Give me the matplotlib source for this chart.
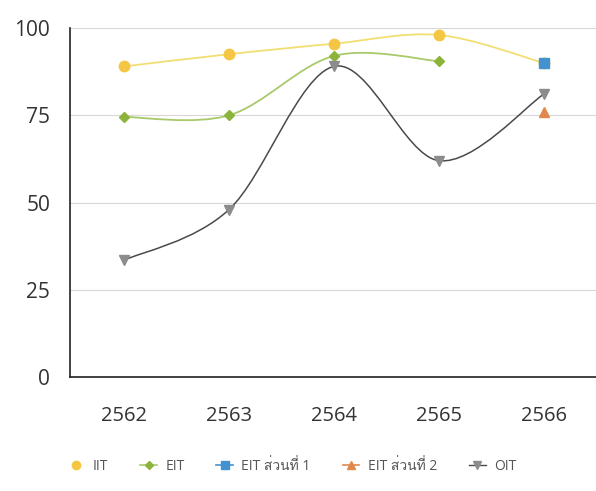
import numpy as np
import matplotlib.pyplot as plt
from matplotlib.path import Path
from matplotlib.patches import PathPatch
from matplotlib.lines import Line2D
from matplotlib import font_manager, ft2font

years = ['2562', '2563', '2564', '2565', '2566']
iit = [89, 92.5, 95.5, 98, 90]
eit = [74.5, 75, 92, 90.5]
eit_part1 = [90]
eit_part2 = [76]
oit = [33.5, 48, 89, 62, 81]

labels = ['IIT', 'EIT', 'EIT ส่วนที่ 1', 'EIT ส่วนที่ 2', 'OIT']


def thai_font():
    for f in font_manager.fontManager.ttflist:
        try:
            ft = ft2font.FT2Font(f.fname)
            if ft.get_char_index(ord('ส')) and ft.get_char_index(ord('ว')):
                return f.name
        except Exception:
            pass
    return 'DejaVu Sans'


def smooth_path(xs, ys, t=1 / 6):
    # Excel-style smoothed line through the points (cubic bezier segments)
    pts = list(zip(xs, ys))
    verts = [pts[0]]
    codes = [Path.MOVETO]
    for i in range(len(pts) - 1):
        p0 = pts[i - 1] if i > 0 else pts[i]
        p1 = pts[i]
        p2 = pts[i + 1]
        p3 = pts[i + 2] if i + 2 < len(pts) else pts[i + 1]
        c1 = (p1[0] + (p2[0] - p0[0]) * t, p1[1] + (p2[1] - p0[1]) * t)
        c2 = (p2[0] - (p3[0] - p1[0]) * t, p2[1] - (p3[1] - p1[1]) * t)
        verts += [c1, c2, p2]
        codes += [Path.CURVE4] * 3
    return Path(verts, codes)


plt.rcParams['font.family'] = ['Open Sans', 'DejaVu Sans']
tfont = thai_font()

fig = plt.figure(figsize=(5.96, 4.91), dpi=100)
ax = fig.add_axes([0.117, 0.232, 0.883, 0.711])

x = np.arange(len(years))

c_iit, c_iit_line = '#F4C643', '#F3DE72'
c_eit = '#8CB43A'
c_p1 = '#4391CF'
c_p2 = '#E0894C'
c_oit, c_oit_line = '#8C8C8C', '#4A4A4A'

ax.add_patch(PathPatch(smooth_path(x[:len(iit)], iit), fill=False, ec=c_iit_line, lw=1.3, zorder=2))
ax.add_patch(PathPatch(smooth_path(x[:len(eit)], eit), fill=False, ec='#A9C96A', lw=1.3, zorder=2))
ax.add_patch(PathPatch(smooth_path(x[:len(oit)], oit), fill=False, ec=c_oit_line, lw=1.1, zorder=2))

ax.plot(x[:len(iit)], iit, 'o', color=c_iit, ms=7.5, zorder=3)
ax.plot(x[:len(eit)], eit, 'D', color=c_eit, ms=5.5, zorder=3)
ax.plot(x[4:], eit_part1, 's', color=c_p1, ms=7, zorder=4)
ax.plot(x[4:], eit_part2, '^', color=c_p2, ms=6.5, zorder=4)
ax.plot(x[:len(oit)], oit, 'v', color=c_oit, ms=7, zorder=3)

ax.set_xlim(-0.52, 4.5)
ax.set_ylim(0, 100)
ax.set_yticks([0, 25, 50, 75, 100])
ax.set_xticks(x)
ax.set_xticklabels(years)
ax.yaxis.grid(True, color='#D8D8D8', lw=0.8)
ax.set_axisbelow(True)
for s in ['top', 'right']:
    ax.spines[s].set_visible(False)
for s in ['left', 'bottom']:
    ax.spines[s].set_color('#222222')
    ax.spines[s].set_linewidth(1.2)
ax.tick_params(length=0, colors='#333333')
ax.tick_params(axis='x', pad=21, labelsize=14.5)
ax.tick_params(axis='y', pad=14, labelsize=15)

handles = [
    Line2D([], [], color=c_iit_line, marker='o', mfc=c_iit, mec=c_iit, ms=6, lw=0),
    Line2D([], [], color='#A9C96A', marker='D', mfc=c_eit, mec=c_eit, ms=4.5, lw=1.2),
    Line2D([], [], color=c_p1, marker='s', mfc=c_p1, mec=c_p1, ms=5.5, lw=1.2),
    Line2D([], [], color=c_p2, marker='^', mfc=c_p2, mec=c_p2, ms=5.5, lw=1.2),
    Line2D([], [], color=c_oit_line, marker='v', mfc=c_oit, mec=c_oit, ms=5.5, lw=1.0),
]
fig.legend(handles, labels, loc='center', bbox_to_anchor=(0.49, 0.05), ncol=5,
           frameon=False, handlelength=1.2, handletextpad=0.6, columnspacing=2.3,
           labelcolor='#555555', prop={'family': ['Open Sans', tfont, 'DejaVu Sans'], 'size': 10})

fig.savefig('out.png', dpi=100, facecolor='white')
